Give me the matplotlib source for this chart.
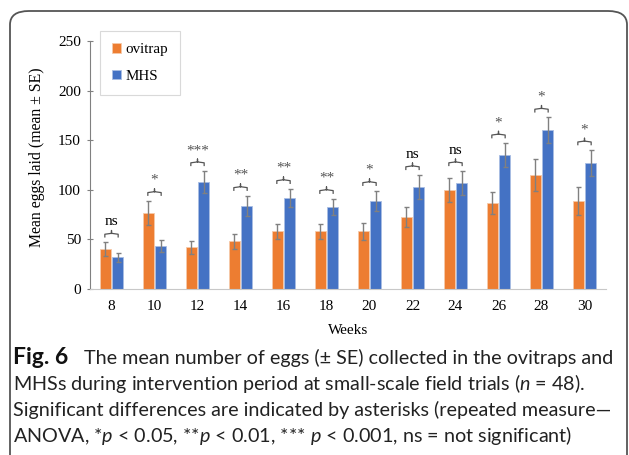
import numpy as np
import matplotlib
matplotlib.use('Agg')
import matplotlib.pyplot as plt
from matplotlib.patches import FancyBboxPatch
from matplotlib.lines import Line2D

weeks = ['8', '10', '12', '14', '16', '18', '20', '22', '24', '26', '28', '30']
ovitrap = [40, 77, 42, 48, 58, 58, 58, 73, 100, 87, 115, 89]
ovitrap_se = [7, 12, 6.5, 7.5, 8, 8, 8.5, 10, 12, 11, 16, 14]
mhs = [32, 43, 108, 84, 92, 83, 89, 103, 107, 135, 160, 127]
mhs_se = [4.5, 6, 11, 10, 9, 8, 10, 12, 12, 12, 13, 13]
signif = ['ns', '*', '***', '**', '**', '**', '*', 'ns', 'ns', '*', '*', '*']

ORANGE = '#ED7D31'
BLUE = '#4472C4'
GREY = '#808080'

plt.rcParams['font.family'] = ['Liberation Serif', 'DejaVu Serif']
plt.rcParams['mathtext.fontset'] = 'custom'
plt.rcParams['mathtext.it'] = 'Lato:italic'
plt.rcParams['mathtext.rm'] = 'Lato'

W, H = 629, 455
fig = plt.figure(figsize=(W / 100, H / 100), dpi=100)

# outer frame with rounded corners
frame = FancyBboxPatch((10 / W, -0.1), 617 / W, 1.1 - 11 / H,
                       boxstyle='round,pad=0,rounding_size=0.03',
                       transform=fig.transFigure, fill=False,
                       edgecolor='#555555', linewidth=1.3, clip_on=False)
fig.patches.append(frame)

ax = fig.add_axes([90 / W, 1 - 289 / H, 516 / W, 248 / H])
x = np.arange(len(weeks))
bw = 0.235
off = 0.14
err_kw = dict(ecolor=GREY, elinewidth=1, capsize=1.8, capthick=1)
ax.bar(x - off, ovitrap, bw, yerr=ovitrap_se, color=ORANGE,
       edgecolor='#f6c9a9', linewidth=0.6, error_kw=err_kw, label='ovitrap')
ax.bar(x + off, mhs, bw, yerr=mhs_se, color=BLUE,
       edgecolor='#a9bde3', linewidth=0.6, error_kw=err_kw, label='MHS')

# significance braces above each pair
for i, s in enumerate(signif):
    top = max(ovitrap[i] + ovitrap_se[i], mhs[i] + mhs_se[i]) + 9
    hw = 0.155
    xs = [i - hw, i - hw, i - 0.02, i, i, i, i + 0.02, i + hw, i + hw]
    ys = [top - 3.5, top - 0.8, top, top, top + 3, top, top, top - 0.8, top - 3.5]
    ax.add_line(Line2D(xs, ys, color='#555555', linewidth=0.9))
    col = 'black' if s == 'ns' else '#555555'
    ax.text(i, top + 5, s, ha='center', va='bottom', fontsize=11, color=col)

ax.set_xlim(-0.5, len(weeks) - 0.5)
ax.set_ylim(0, 250)
ax.set_yticks([0, 50, 100, 150, 200, 250])
ax.set_xticks(x)
ax.set_xticklabels(weeks)
for sp in ['top', 'right']:
    ax.spines[sp].set_visible(False)
ax.spines['left'].set_color(GREY)
ax.spines['bottom'].set_color('#c8c8c8')
ax.tick_params(axis='y', direction='inout', length=5, color=GREY, labelsize=11, pad=4)
ax.tick_params(axis='x', length=0, labelsize=11, pad=8)
ax.set_xlabel('Weeks', fontsize=11, labelpad=8)
ax.set_ylabel('Mean eggs laid (mean \u00b1 SE)', fontsize=11.3)
ax.yaxis.set_label_coords(-0.088, 0.53)

leg = ax.legend(loc='upper left', bbox_to_anchor=(0.019, 1.04), fontsize=10.8,
                handlelength=0.6, handleheight=0.6, handletextpad=0.3,
                labelspacing=0.9, borderpad=0.8, borderaxespad=0,
                fancybox=False, edgecolor='#d0d0d0')
leg.get_frame().set_linewidth(0.8)

# caption
cap_font = ['Lato', 'DejaVu Sans']
cs = 14.2
fig.text(13 / W, 1 - 364 / H, 'Fig. 6', fontsize=16.5, fontweight='bold',
         family=cap_font, color='#111111', va='baseline')
fig.text(84 / W, 1 - 364 / H,
         'The mean number of eggs (\u00b1 SE) collected in the ovitraps and',
         fontsize=cs, family=cap_font, color='#222222', va='baseline')
fig.text(13 / W, 1 - 390 / H,
         'MHSs during intervention period at small-scale field trials ($n$ = 48).',
         fontsize=cs, family=cap_font, color='#222222', va='baseline')
fig.text(13 / W, 1 - 416 / H,
         'Significant differences are indicated by asterisks (repeated measure\u2014',
         fontsize=cs, family=cap_font, color='#222222', va='baseline')
fig.text(13 / W, 1 - 442 / H,
         'ANOVA, *$p$ < 0.05, **$p$ < 0.01, *** $p$ < 0.001, ns = not significant)',
         fontsize=cs, family=cap_font, color='#222222', va='baseline')

fig.savefig('out.png', dpi=100)
